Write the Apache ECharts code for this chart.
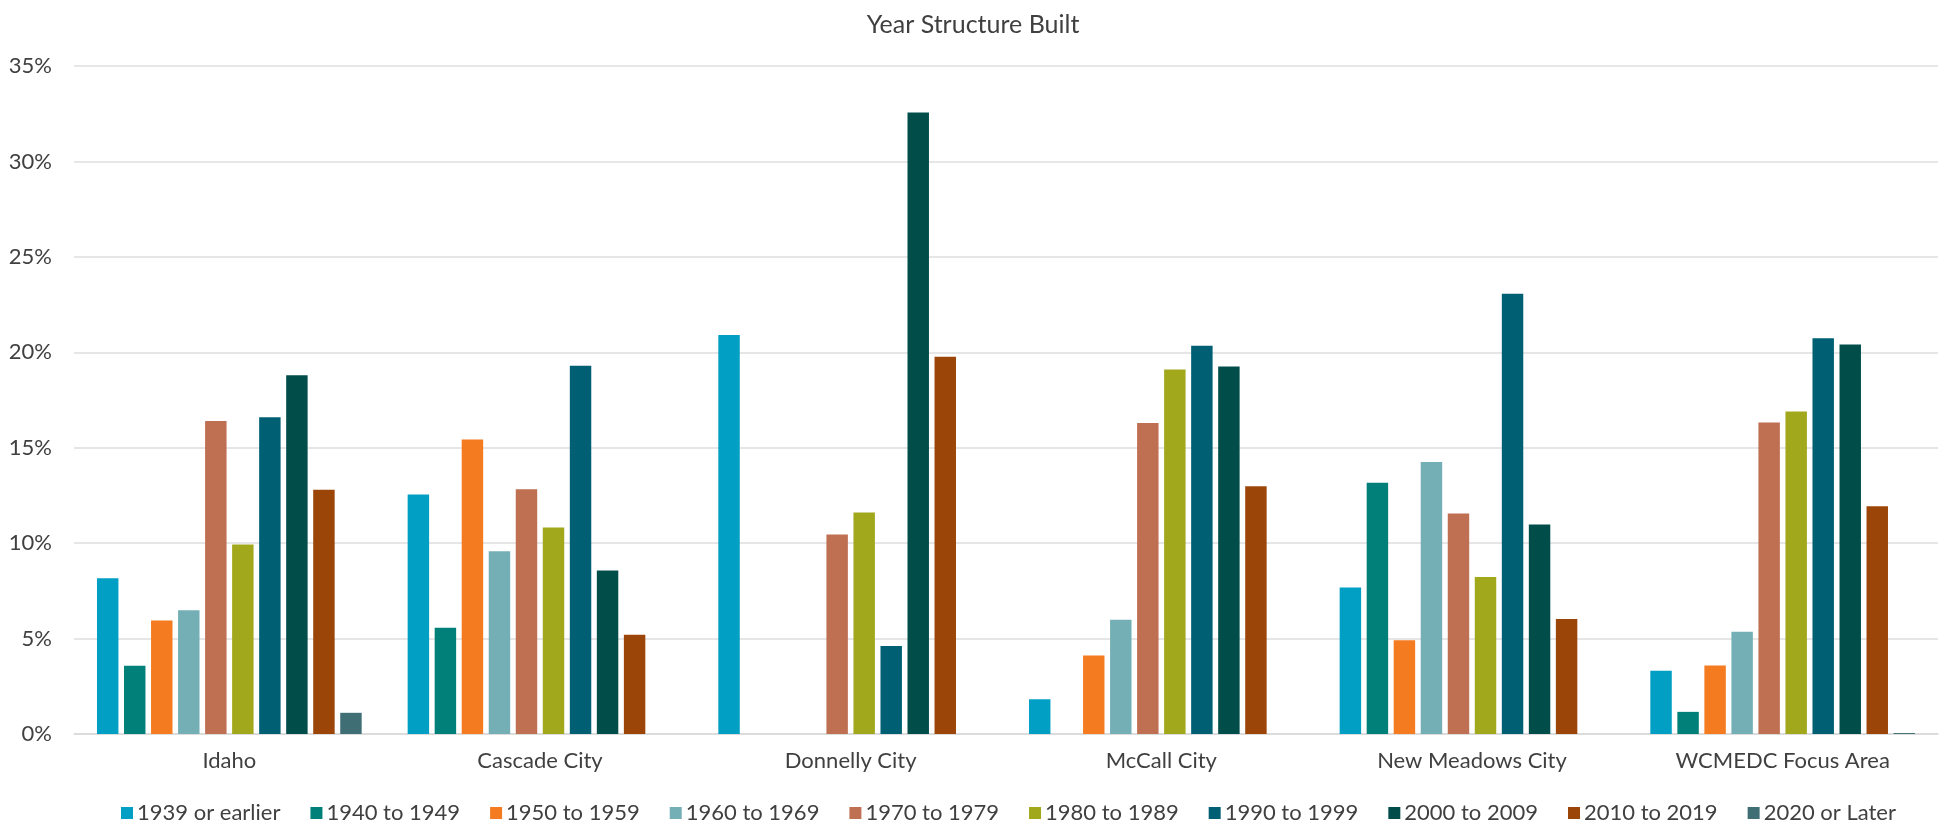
<!DOCTYPE html>
<html>
<head>
<meta charset="utf-8">
<title>Year Structure Built</title>
<script src="https://cdn.jsdelivr.net/npm/echarts@6/dist/echarts.min.js"></script>
<style>
  html, body { margin: 0; padding: 0; background: #fff; }
  #chart { width: 1946px; height: 824px; }
</style>
</head>
<body>
<div id="chart"></div>
<script>
// Places compared
const categories = ['Idaho', 'Cascade City', 'Donnelly City', 'McCall City', 'New Meadows City', 'WCMEDC Focus Area'];

// Share of housing units by year built (%), one array per period
const built1939OrEarlier = [8.16, 12.55, 20.9, 1.82, 7.68, 3.32];
const built1940to1949   = [3.57, 5.57, 0, 0, 13.16, 1.16];
const built1950to1959   = [5.95, 15.43, 0, 4.11, 4.91, 3.59];
const built1960to1969   = [6.48, 9.57, 0, 5.98, 14.25, 5.36];
const built1970to1979   = [16.4, 12.82, 10.45, 16.3, 11.55, 16.32];
const built1980to1989   = [9.93, 10.82, 11.6, 19.1, 8.23, 16.9];
const built1990to1999   = [16.6, 19.3, 4.61, 20.34, 23.07, 20.73];
const built2000to2009   = [18.8, 8.57, 32.57, 19.25, 10.98, 20.41];
const built2010to2019   = [12.8, 5.2, 19.77, 12.98, 6.02, 11.93];
const built2020OrLater  = [1.11, 0, 0, 0, 0, 0.05];

const seriesNames = ['1939 or earlier', '1940 to 1949', '1950 to 1959', '1960 to 1969', '1970 to 1979',
                     '1980 to 1989', '1990 to 1999', '2000 to 2009', '2010 to 2019', '2020 or Later'];
const seriesValues = [built1939OrEarlier, built1940to1949, built1950to1959, built1960to1969, built1970to1979,
                      built1980to1989, built1990to1999, built2000to2009, built2010to2019, built2020OrLater];
const seriesColors = ['#009fc3', '#01807a', '#f47b20', '#74afb6', '#bf6f52',
                      '#a1a81b', '#015f74', '#014d4a', '#9c4509', '#3f6f74'];

const font = 'Lato, "Open Sans", sans-serif';
const textColor = '#404040';

const chart = echarts.init(document.getElementById('chart'), null, { renderer: 'canvas' });

chart.setOption({
  animation: false,
  backgroundColor: '#ffffff',
  color: seriesColors,
  title: {
    text: 'Year Structure Built',
    left: 'center',
    top: 7,
    textStyle: { fontFamily: font, fontSize: 25, fontWeight: 'normal', color: textColor }
  },
  grid: { left: 74, right: 8, top: 66, bottom: 90, containLabel: false },
  legend: {
    top: 797,
    left: 116,
    itemWidth: 12,
    itemHeight: 12,
    itemGap: 30,
    icon: 'rect',
    textStyle: { fontFamily: font, fontSize: 22, color: textColor, padding: [0, 0, 0, -1] },
    data: seriesNames
  },
  xAxis: {
    type: 'category',
    data: categories,
    axisLine: { show: true, lineStyle: { color: '#d9d9d9', width: 1.5 } },
    axisTick: { show: false },
    axisLabel: { fontFamily: font, fontSize: 22, color: textColor, margin: 16 }
  },
  yAxis: {
    type: 'value',
    min: 0,
    max: 35,
    interval: 5,
    axisLine: { show: false },
    axisTick: { show: false },
    axisLabel: { fontFamily: font, fontSize: 22, color: textColor, margin: 22, formatter: '{value}%' },
    splitLine: { lineStyle: { color: '#dedede', width: 1.5 } }
  },
  series: seriesNames.map((name, i) => ({
    name: name,
    type: 'bar',
    data: seriesValues[i],
    barGap: '26%',
    barCategoryGap: '14.8%',
    itemStyle: { color: seriesColors[i] }
  }))
});
</script>
</body>
</html>
